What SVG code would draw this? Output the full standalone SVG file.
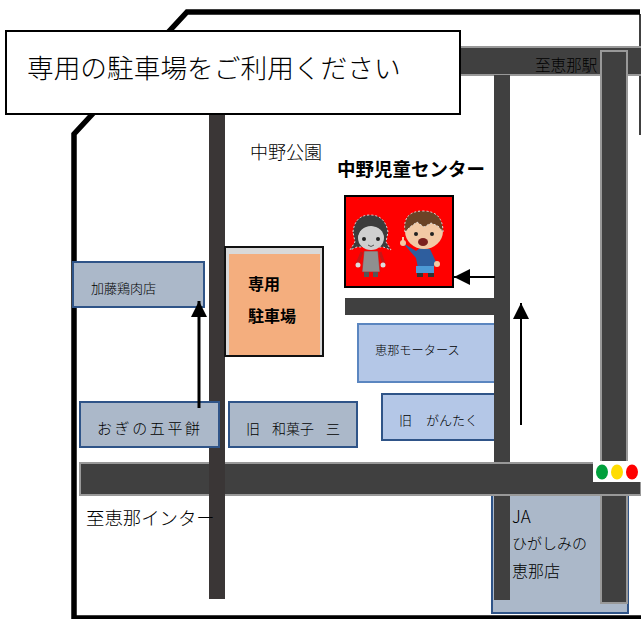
<svg xmlns="http://www.w3.org/2000/svg" width="641" height="619" viewBox="0 0 641 619">
<style>
text{font-family:"Noto Sans CJK JP","Liberation Sans",sans-serif;fill:#000;font-weight:300}
text.b{font-weight:700;fill:#000}
.road{fill:#404040}
.roadd{fill:#3a3636}
.roadg{fill:#404040;stroke:#999;stroke-width:2}
.bld{fill:#abb8c9;stroke:#2f5488;stroke-width:2}
.bll{fill:#b4c7e7;stroke:#5b86c0;stroke-width:2}
.arrow{stroke:#000;fill:none}
.sk{fill:#f3c9a5}
.o{stroke:#ddd;stroke-width:1;stroke-dasharray:2 2}
</style>
<defs>
<marker id="ah" markerUnits="userSpaceOnUse" markerWidth="16" markerHeight="16" refX="16" refY="8" orient="auto"><path d="M0 0L16 8L0 16Z" fill="#000"/></marker>
</defs>
<rect width="641" height="619" fill="#fff"/>
<path id="border" d="M640 12H187L74 134V618H641" fill="none" stroke="#000" stroke-width="5.5"/>
<path d="M640 14V135" stroke="#000" stroke-width="1.5"/>
<g id="roads">
<rect class="roadg" x="440" y="47" width="202" height="28"/>
<rect class="road" x="494" y="75" width="16" height="525"/>
<rect class="road" x="345" y="298" width="150" height="17"/>
</g>
<g id="jaten"><rect class="bld" x="492" y="490" width="136" height="123"/>
<text x="512" y="523" font-size="17">JA</text><text x="512" y="549" font-size="15">ひがしみの</text><text x="512" y="577" font-size="16">恵那店</text></g>
<rect class="road" x="494" y="490" width="16" height="110"/>
<text x="535" y="71" font-size="15.6">至恵那駅</text>
<rect class="roadg" x="601" y="51" width="26" height="552"/>
<rect class="roadg" x="80" y="463" width="561" height="32"/>
<rect class="roadd" x="209" y="110" width="16" height="489"/>
<g id="signal"><rect x="593" y="461" width="48" height="21" fill="#fff"/>
<ellipse cx="602" cy="472" rx="6" ry="7.5" fill="#00a03c"/><ellipse cx="617" cy="472" rx="6" ry="7.5" fill="#ffdc00"/><ellipse cx="632" cy="472" rx="6" ry="7.5" fill="#f00"/></g>
<g id="title"><rect x="6" y="31" width="454" height="83" fill="#fff" stroke="#000" stroke-width="2"/>
<text x="27" y="78" font-size="26.7">専用の駐車場をご利用ください</text></g>
<text x="250" y="159" font-size="18">中野公園</text>
<text class="b" x="337" y="176" font-size="18.5">中野児童センター</text>
<g id="center">
<rect x="345" y="196" width="108" height="91" fill="#f00" stroke="#000" stroke-width="2"/>
<g id="girl">
<path class="o" d="M353 232Q355 215 370 215Q385 215 388 232L386 242L391 250L383 247L357 247L350 250L355 242Z" fill="#3c3c3c"/>
<ellipse cx="371" cy="238" rx="13" ry="12" fill="#cfcfcf"/>
<path d="M358 235Q362 224 372 226Q381 226 385 235Q384 221 371 220Q358 221 358 235Z" fill="#3c3c3c"/>
<circle cx="364" cy="239" r="2" fill="#222"/><circle cx="378" cy="239" r="2" fill="#222"/>
<path d="M368 245Q371 248 374 245" fill="none" stroke="#555"/>
<path d="M362 252L357 264M380 252L384 264" stroke="#c61616" stroke-width="3"/>
<path d="M364 251H378L380 272H362Z" fill="#8f8f8f" stroke="#c61616" stroke-width=".6"/>
<circle cx="358" cy="265" r="2.5" fill="#ddd"/><circle cx="383" cy="265" r="2.5" fill="#ddd"/>
<rect x="364" y="272" width="5" height="5" fill="#555"/><rect x="373" y="272" width="5" height="5" fill="#555"/>
</g>
<g id="boy">
<path d="M403 243L416 251L420 248L430 249L436 262L433 268H418L416 258Z" fill="#2e5e9e"/>
<ellipse cx="424" cy="231" rx="19" ry="18" class="sk"/>
<path class="o" d="M405 232Q402 211 423 211Q443 211 443 232L438 226L431 223L424 227L417 222L410 227Z" fill="#6b4326"/>
<circle cx="416" cy="234" r="2" fill="#222"/><circle cx="432" cy="234" r="2" fill="#222"/>
<ellipse cx="423" cy="242" rx="5" ry="4" fill="#7a1f1f"/>
<circle cx="403" cy="243" r="3" class="sk"/><path d="M403 244V237" stroke="#f3c9a5" stroke-width="2"/><circle cx="437" cy="264" r="3" class="sk"/>
<rect x="416" y="266" width="18" height="7" fill="#4d9ad6"/>
<rect x="417" y="273" width="6" height="4" fill="#333"/><rect x="428" y="273" width="6" height="4" fill="#333"/>
</g>
</g>
<g id="parking"><rect x="225" y="247" width="98" height="109" fill="#d9d9d9" stroke="#111" stroke-width="2"/>
<rect x="229" y="254" width="91" height="101" fill="#f4ae7e"/>
<text class="b" x="248" y="290" font-size="16">専用</text><text class="b" x="248" y="322" font-size="16">駐車場</text></g>
<g id="kato"><rect class="bld" x="73" y="262" width="131" height="45"/><text x="91" y="293" font-size="13">加藤鶏肉店</text></g>
<g id="ogino"><rect class="bld" x="80" y="402" width="139" height="45"/><text x="97" y="434" font-size="15" letter-spacing="2.6">おぎの五平餅</text></g>
<g id="wagashi"><rect class="bld" x="229" y="402" width="128" height="45"/><text y="434" font-size="14"><tspan x="246">旧</tspan><tspan x="272">和菓子</tspan><tspan x="326">三</tspan></text></g>
<g id="motors"><rect class="bll" x="358" y="324" width="137" height="58"/><text x="375" y="355" font-size="12.2">恵那モータース</text></g>
<g id="gantaku"><rect class="bll" x="382" y="394" width="113" height="46" style="stroke:#2f5488"/><text y="425" font-size="13"><tspan x="399">旧</tspan><tspan x="426">がんたく</tspan></text></g>
<rect class="road" x="494" y="320" width="16" height="130"/>
<text x="86" y="525" font-size="18.4">至恵那インター</text>
<g id="connectors">
<path class="arrow" stroke-width="3" d="M199 408V301" marker-end="url(#ah)"/>
<path class="arrow" stroke-width="2" d="M495 277H454" marker-end="url(#ah)"/>
<path class="arrow" stroke-width="2" d="M521 425V303" marker-end="url(#ah)"/>
</g>
</svg>
